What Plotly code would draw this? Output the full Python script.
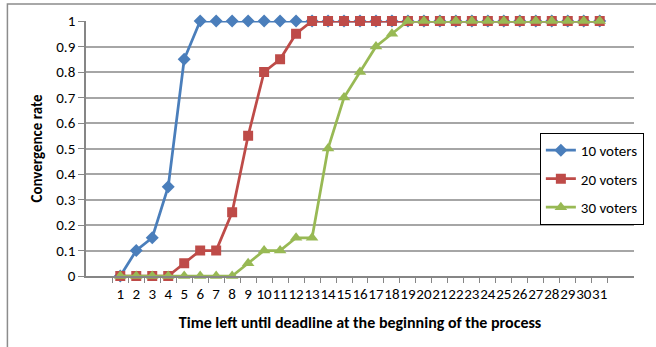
import plotly.graph_objects as go

# Time left until deadline (categories 1..31)
time_left = [str(i) for i in range(1, 32)]

voters_10 = [0, 0.1, 0.15, 0.35, 0.85, 1, 1, 1, 1, 1, 1, 1, 1, 1, 1, 1,
             1, 1, 1, 1, 1, 1, 1, 1, 1, 1, 1, 1, 1, 1, 1]
voters_20 = [0, 0, 0, 0, 0.05, 0.1, 0.1, 0.25, 0.55, 0.8, 0.85, 0.95, 1, 1, 1, 1,
             1, 1, 1, 1, 1, 1, 1, 1, 1, 1, 1, 1, 1, 1, 1]
voters_30 = [0, 0, 0, 0, 0, 0, 0, 0, 0.05, 0.1, 0.1, 0.15, 0.15, 0.5, 0.7, 0.8,
             0.9, 0.95, 1, 1, 1, 1, 1, 1, 1, 1, 1, 1, 1, 1, 1]

y_ticks = [0, 0.1, 0.2, 0.3, 0.4, 0.5, 0.6, 0.7, 0.8, 0.9, 1]
y_tick_text = ["0", "0.1", "0.2", "0.3", "0.4", "0.5", "0.6", "0.7", "0.8", "0.9", "1"]

series = [
    ("10 voters", voters_10, "#4A7EBB", "diamond", 10),
    ("20 voters", voters_20, "#BE4B48", "square", 10),
    ("30 voters", voters_30, "#98B954", "triangle-up", 11),
]

font_family = "Carlito, Calibri, 'Liberation Sans', Arial, sans-serif"

fig = go.Figure()
for name, vals, color, symbol, size in series:
    fig.add_trace(go.Scatter(
        x=time_left, y=vals, name=name, mode="lines+markers",
        legendgroup=name,
        line=dict(color=color, width=2.75),
        marker=dict(symbol=symbol, size=size, color=color,
                    line=dict(width=0)),
        cliponaxis=False,
    ))

axis_grey = "#868686"

fig.update_layout(
    width=656, height=347,
    margin=dict(l=86, r=12, t=21, b=71),
    paper_bgcolor="white", plot_bgcolor="white",
    font=dict(family=font_family, size=15, color="#000000"),
    showlegend=True,
    legend=dict(
        x=1.018, y=0.561, xanchor="right", yanchor="top",
        bordercolor="#000000", borderwidth=1, bgcolor="white",
        font=dict(size=15, color="#000000"),
        itemwidth=30, tracegroupgap=6,
    ),
    xaxis=dict(
        type="category", tickson="boundaries", ticks="outside", ticklen=5,
        tickmode="array", tickvals=time_left, ticktext=time_left,
        tickangle=0, tickcolor=axis_grey, showgrid=False, showline=True,
        linecolor=axis_grey, linewidth=1.5,
        ticklabelstandoff=3,
        tickfont=dict(size=15, color="#000000"),
        title=dict(text="<b>Time left until deadline at the beginning of the process</b>",
                   font=dict(size=16, color="#000000"), standoff=15),
    ),
    yaxis=dict(
        range=[0, 1], tickvals=y_ticks, ticktext=y_tick_text,
        ticks="outside", ticklen=6, tickcolor=axis_grey,
        showgrid=True, gridcolor="#A6A6A6", gridwidth=1.5,
        showline=True, linecolor=axis_grey, linewidth=1.5,
        zeroline=False,
        tickfont=dict(size=15, color="#000000"),
        title=dict(text="<b>Convergence rate</b>",
                   font=dict(size=15, color="#000000"), standoff=10),
    ),
    shapes=[
        dict(type="rect", xref="paper", yref="paper",
             x0=-0.1434, x1=1.06, y0=-0.35, y1=1.067,
             line=dict(color="#8C8C8C", width=1.5), fillcolor="rgba(0,0,0,0)",
             layer="below"),
    ],
)

fig.write_html("out.html")
